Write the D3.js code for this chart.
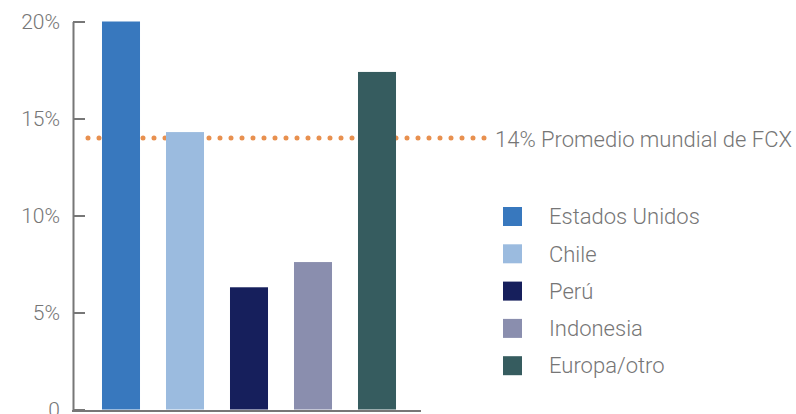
<!DOCTYPE html>
<html>
<head>
<meta charset="utf-8">
<script src="https://cdn.jsdelivr.net/npm/d3@7"></script>
<style>
  body { margin: 0; background: #fff; }
  svg text { font-family: Roboto, "Noto Sans", sans-serif; font-weight: 300; fill: #767676; }
</style>
</head>
<body>
<div id="bar-chart"></div>
<script>
const categories = ["Estados Unidos", "Chile", "Perú", "Indonesia", "Europa/otro"];
const values     = [20, 14.3, 6.3, 7.6, 17.4];
const colors     = ["#3878be", "#9bbbdf", "#161f5c", "#8a8eae", "#365c5f"];
const yTicks     = [0, 5, 10, 15, 20];
const yTickLabels = ["0", "5%", "10%", "15%", "20%"];
const average    = 14;
const averageLabel = "14% Promedio mundial de FCX";

const width = 796, height = 414;

let svg = d3.select("#bar-chart")
  .append("svg")
    .attr("width", width)
    .attr("height", height);

// scales
let x = d3.scaleBand()
  .domain(categories)
  .range([89, 409])
  .paddingInner(0.406)
  .paddingOuter(0.203);

let y = d3.scaleLinear()
  .domain([0, 20])
  .range([409.5, 21.5]);

// average line sits behind the bars
svg.append("line")
   .attr("x1", 88)
   .attr("x2", 485)
   .attr("y1", y(average))
   .attr("y2", y(average))
   .attr("stroke", "#e8904f")
   .attr("stroke-width", 5)
   .attr("stroke-linecap", "round")
   .attr("stroke-dasharray", "0 11");

svg.append("text")
   .attr("x", 495)
   .attr("y", y(average) + 1)
   .attr("dy", "0.35em")
   .style("font-size", "22px")
   .text(averageLabel);

// bars
svg.selectAll("rect.bar")
   .data(categories)
   .join("rect")
     .attr("class", "bar")
     .attr("x", d => x(d))
     .attr("width", x.bandwidth())
     .attr("y", (d, i) => y(values[i]))
     .attr("height", (d, i) => y(0) - y(values[i]))
     .attr("fill", (d, i) => colors[i]);

// y axis, ticks pointing inward
let yAxis = svg.append("g")
   .attr("transform", "translate(73,0)")
   .call(d3.axisLeft(y)
     .tickValues(yTicks)
     .tickFormat((d, i) => yTickLabels[i])
     .tickSizeInner(-12)
     .tickSizeOuter(0)
     .tickPadding(13));

yAxis.selectAll("path, line").attr("stroke", "#777").attr("stroke-width", 2);
yAxis.selectAll("text").style("font-size", "21px").attr("fill", "#767676");

// x axis baseline
svg.append("line")
   .attr("x1", 72)
   .attr("x2", 421)
   .attr("y1", y(0) + 1.5)
   .attr("y2", y(0) + 1.5)
   .attr("stroke", "#777")
   .attr("stroke-width", 2);

// legend
let legend = svg.append("g")
   .selectAll("g")
   .data(categories)
   .join("g")
     .attr("transform", (d, i) => `translate(503, ${207 + i * 37.3})`);

legend.append("rect")
   .attr("width", 19)
   .attr("height", 19)
   .attr("fill", (d, i) => colors[i]);

legend.append("text")
   .attr("x", 46)
   .attr("y", 9.5)
   .attr("dy", "0.35em")
   .style("font-size", "22px")
   .text(d => d);
</script>
</body>
</html>
